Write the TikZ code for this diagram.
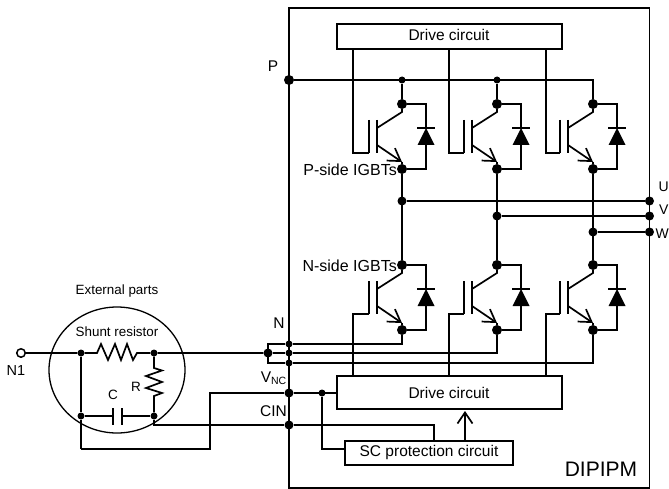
\documentclass[tikz,border=0pt]{standalone}
\usepackage{fontspec}
\setmainfont{Liberation Sans}
\usetikzlibrary{arrows.meta}
\newcommand{\fs}[1]{\fontsize{#1}{#1}\selectfont}
\tikzset{
  x=1pt,y=-1pt,
  wire/.style={line width=1.7pt,line join=miter},
  box/.style={draw,line width=1.7pt,fill=white,inner sep=0pt,minimum height=#1},
  dotL/.style={circle,fill=black,inner sep=0pt,minimum size=10pt},
  dotM/.style={circle,fill=black,inner sep=0pt,minimum size=9pt},
  dotS/.style={circle,fill=black,inner sep=0pt,minimum size=7pt},
  lab/.style={inner sep=0pt,font=\fs{15.5}},
  barb/.style={-{Straight Barb[length=12pt,width=15pt,line width=1.7pt]}},
}
\newcommand{\igbt}[3]{%
  \node[dotL] (#1c) at (#2,#3) {};
  \node[dotL] (#1e) at (#2,#3+65) {};
  \coordinate (#1bt) at (#2-25,#3+16);
  \coordinate (#1bb) at (#2-25,#3+49);
  \coordinate (#1gt) at (#2-33,#3+16);
  \coordinate (#1gb) at (#2-33,#3+49);
  \coordinate (#1k) at (#2,#3+8);
  \coordinate (#1m) at (#2,#3+58);
  \coordinate (#1ct) at (#2-25,#3+24);
  \coordinate (#1et) at (#2-25,#3+41);
  \coordinate (#1dc) at (#2+24,#3);
  \coordinate (#1de) at (#2+24,#3+65);
  \coordinate (#1dt) at (#2+24,#3+24);
  \coordinate (#1db) at (#2+24,#3+41);
  \draw[wire] (#1gt) -- (#1gb);
  \draw[wire] (#1bt) -- (#1bb);
  \draw[wire] (#1ct) -- (#1k) -- (#1c);
  \draw[wire,barb] (#1et) -- (#1m);
  \draw[wire] (#1m) -- (#1e);
  \draw[wire] (#1c) -- (#1dc) -- (#1dt);
  \draw[wire] (#1db) -- (#1de) -- (#1e);
  \fill (#1dt) -- ++(8.5,17) -- ++(-17,0) -- cycle;
  \draw[wire] ([xshift=-9pt]#1dt) -- ([xshift=9pt]#1dt);
}
\begin{document}
\begin{tikzpicture}
\useasboundingbox (0,0) rectangle (669,489);
% module outline
\coordinate (mTL) at (289,8);
\coordinate (mBR) at (649.5,488);
\draw[wire] (mTL) rectangle (mBR);
% boxes
\node[box=25pt,minimum width=225pt] (dt) at (449.5,36.5) {};
\node[box=33pt,minimum width=225pt] (db) at (449.5,392.5) {};
\node[box=24pt,minimum width=168pt] (sc) at (429,453) {};
\node[lab] (dtl) at (449,35) {Drive circuit};
\node[lab] (dbl) at (449,393) {Drive circuit};
\node[lab] (scl) at (429,452) {SC protection circuit};
\node[inner sep=0pt,font=\fs{21}] (dip) at (601,469) {DIPIPM};
% IGBTs
\igbt{a}{402}{104}
\igbt{b}{497}{104}
\igbt{c}{593}{104}
\igbt{d}{402}{265}
\igbt{e}{497}{265}
\igbt{f}{593}{265}
% P bus
\node[dotL] (P) at (289,80) {};
\node[dotS] (P1) at (402,80) {};
\node[dotS] (P2) at (497,80) {};
\coordinate (P3) at (593,80);
\draw[wire] (P) -- (P3) -- (cc);
\draw[wire] (P1) -- (ac);
\draw[wire] (P2) -- (bc);
% gate leads
\foreach \n/\x in {a/353,b/449,c/546}{
  \coordinate (g\n) at (\x,49);
  \draw[wire] (g\n) -- (g\n |- \n gb) -- (\n gb);
}
\foreach \n/\x in {d/353,e/449,f/546}{
  \coordinate (g\n) at (\x,376);
  \draw[wire] (g\n) -- (g\n |- \n gb) -- (\n gb);
}
% phase legs and outputs
\draw[wire] (ae) -- (dc);
\draw[wire] (be) -- (ec);
\draw[wire] (ce) -- (fc);
\node[dotM] (u0) at (402,201) {};
\node[dotM] (v0) at (497,216) {};
\node[dotM] (w0) at (593,232) {};
\node[dotM] (u1) at (649.5,201) {};
\node[dotM] (v1) at (649.5,216) {};
\node[dotM] (w1) at (649.5,232) {};
\draw[wire] (u0) -- (u1);
\draw[wire] (v0) -- (v1);
\draw[wire] (w0) -- (w1);
% N-side emitters
\node[dotS] (n1) at (289,344) {};
\node[dotS] (n2) at (289,353) {};
\node[dotS] (n3) at (289,363) {};
\node[dotM] (nb) at (268,353) {};
\draw[wire] (de) -- (de |- n1) -- (n1);
\draw[wire] (ee) -- (ee |- n2) -- (n2);
\draw[wire] (fe) -- (fe |- n3) -- (n3);
\draw[wire] (n1) -- (n1 -| nb) -- (n3 -| nb) -- (n3);
% VNC and CIN
\node[dotM] (vnc) at (289,393) {};
\node[dotS] (vj) at (322,393) {};
\node[dotM] (cin) at (289,425) {};
\coordinate (vl) at (210,393);
\coordinate (vb) at (210,449);
\coordinate (vc) at (81,449);
\coordinate (sl) at (345,449);
\coordinate (st) at (434,441);
\coordinate (at) at (434,425);
\coordinate (ar0) at (465,441);
\coordinate (ar1) at (465,411);
\draw[wire] (db.west |- vnc) -- (vnc) -- (vl) -- (vb) -- (vc);
\draw[wire] (vj) -- (vj |- sl) -- (sl);
\draw[wire] (cin) -- (at) -- (st);
\draw[wire,-{Straight Barb[length=11pt,width=15pt,line width=1.7pt]}] (ar0) -- (ar1);
% external parts
\draw[line width=1.3pt] (117,370) ellipse [x radius=68,y radius=63];
\node[draw,circle,line width=1.5pt,fill=white,inner sep=0pt,minimum size=8.5pt] (N1) at (21,353) {};
\node[dotS] (s1) at (81,353) {};
\node[dotS] (s2) at (154,353) {};
\node[dotS] (s3) at (81,416) {};
\node[dotS] (s4) at (154,416) {};
\coordinate (ce1) at (154,425);
\draw[wire] (N1) -- (s1) -- (97,353) -- (101,344) -- (108,360) -- (115,344) -- (121,360) -- (127,344) -- (133,360) -- (137,353) -- (s2) -- (nb);
\draw[wire] (nb) -- (n2);
\draw[wire] (s1) -- (s3) -- (vc);
\draw[wire] (s2) -- (154,368) -- (162,370.5) -- (146,376) -- (162,382) -- (146,388) -- (162,393) -- (154,396) -- (s4);
\draw[wire] (s3) -- (113,416);
\draw[wire] (122,416) -- (s4);
\draw[wire] (113,408) -- (113,425);
\draw[wire] (122,408) -- (122,425);
\draw[wire] (s4) -- (ce1) -- (cin);
% labels
\node[lab,anchor=east,font=\fs{16}] (lp1) at (397,170) {P-side IGBTs};
\node[lab,anchor=east,font=\fs{16}] (lp2) at (397,266) {N-side IGBTs};
\node[lab] (lP) at (273,66) {P};
\node[lab] (lN) at (279,323) {N};
\node[lab] (lV) at (273.5,378) {V\raisebox{-2.5pt}{\fs{10.5}NC}};
\node[lab] (lC) at (273.5,411) {CIN};
\node[lab,anchor=west,font=\fs{14}] (lU) at (658.5,187) {U};
\node[lab,anchor=west,font=\fs{14}] (lVo) at (659,210) {V};
\node[lab,anchor=west,font=\fs{14}] (lW) at (655.5,234) {W};
\node[lab,font=\fs{14.5}] (lN1) at (16,371) {N1};
\node[lab,font=\fs{13.4}] (lE) at (117,291) {External parts};
\node[lab,font=\fs{13.4}] (lS) at (117,332) {Shunt resistor};
\node[lab,font=\fs{13.5}] (lCc) at (113,395) {C};
\node[lab,font=\fs{13.5}] (lR) at (136,387) {R};
\end{tikzpicture}
\end{document}
